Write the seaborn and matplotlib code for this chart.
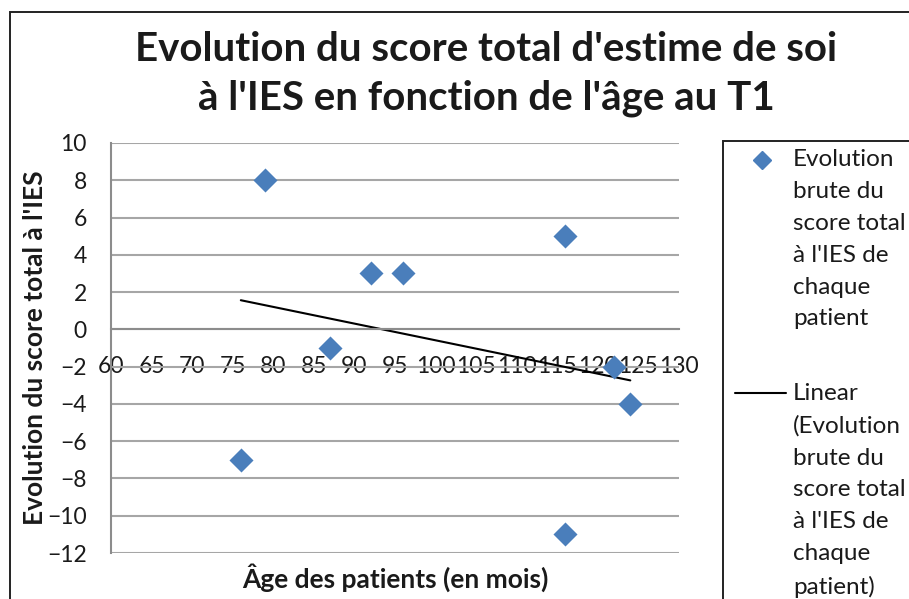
import numpy as np
import pandas as pd
import matplotlib
matplotlib.use("Agg")
import matplotlib.pyplot as plt
import seaborn as sns
from matplotlib.patches import Rectangle
from matplotlib.lines import Line2D

# Data
age_months = [76, 79, 87, 92, 96, 116, 116, 122, 124]
score_change = [-7, 8, -1, 3, 3, 5, -11, -2, -4]
x_ticks = list(range(60, 131, 5))
y_ticks = list(range(-12, 11, 2))

title = "Evolution du score total d'estime de soi\nà l'IES en fonction de l'âge au T1"
x_label = "Âge des patients (en mois)"
y_label = "Evolution du score total à l'IES"
legend_points = "Evolution\nbrute du\nscore total\nà l'IES de\nchaque\npatient"
legend_trend = "Linear\n(Evolution\nbrute du\nscore total\nà l'IES de\nchaque\npatient)"

df = pd.DataFrame({"age": age_months, "score": score_change})

blue = "#4a7ebb"
grid_grey = "#a6a6a6"
axis_grey = "#8c8c8c"
text_col = "#1a1a1a"

sns.set_style("white")
plt.rcParams['font.family'] = ['Lato', 'DejaVu Sans']

W, H = 909, 599
fig = plt.figure(figsize=(W / 100, H / 100), dpi=100)
ax = fig.add_axes([111 / W, 1 - 553 / H, (679 - 111) / W, (553 - 143) / H])

# trend line and points
sns.regplot(data=df, x="age", y="score", scatter=False, ci=None, truncate=True,
            color="black", line_kws=dict(linewidth=1.5), ax=ax)
sns.scatterplot(data=df, x="age", y="score", marker="D", s=150, color=blue,
                linewidth=0, ax=ax, zorder=3)

ax.set_xlim(60, 130)
ax.set_ylim(-12, 10)
ax.set_xticks(x_ticks)
ax.set_yticks(y_ticks)
ax.yaxis.grid(True, color=grid_grey, linewidth=1.5)
ax.xaxis.grid(False)
ax.set_axisbelow(True)

for side in ['top', 'right']:
    ax.spines[side].set_visible(False)
ax.spines['bottom'].set_position(('data', 0))
for side in ['bottom', 'left']:
    ax.spines[side].set_color(axis_grey)
    ax.spines[side].set_linewidth(1.5)

ax.tick_params(axis='x', direction='out', length=6, width=1.2, color=axis_grey,
               labelsize=16.5, pad=13.5, labelcolor=text_col)
ax.tick_params(axis='y', direction='out', length=6.5, width=1.2, color=axis_grey,
               labelsize=16.5, pad=11, labelcolor=text_col)

ax.set_xlabel(x_label, fontsize=19, fontweight='bold', color=text_col)
ax.set_ylabel(y_label, fontsize=19, fontweight='bold', color=text_col)
ax.xaxis.set_label_coords(0.5, -0.025)
ax.yaxis.set_label_coords(-0.112, 0.5)

fig.text(486 / W, 1 - 74 / H, title, ha='center', va='center', fontsize=29,
         fontweight='bold', color=text_col, linespacing=1.4)

# chart area border and legend box (run past the image edges like the original)
fig.add_artist(Rectangle((10 / W, -0.5), 2, 1.5 - 12 / H, transform=fig.transFigure,
                         fill=False, edgecolor='#222222', linewidth=1.4))
fig.add_artist(Rectangle((723 / W, -0.5), 2, 1.5 - 141 / H, transform=fig.transFigure,
                         fill=False, edgecolor='#222222', linewidth=1.4))

# legend entries
fig.add_artist(Line2D([762 / W], [1 - 160 / H], marker='D', markersize=9.5, color=blue,
                      linestyle='none', transform=fig.transFigure))
fig.add_artist(Line2D([735 / W, 786 / W], [1 - 393 / H, 1 - 393 / H], color='black',
                      linewidth=1.5, transform=fig.transFigure))
fig.text(793 / W, 1 - 149 / H, legend_points, ha='left', va='top', fontsize=17.5,
         color=text_col, linespacing=1.64)
fig.text(793 / W, 1 - 383 / H, legend_trend, ha='left', va='top', fontsize=17.5,
         color=text_col, linespacing=1.64)

fig.savefig("out.png", dpi=100)
